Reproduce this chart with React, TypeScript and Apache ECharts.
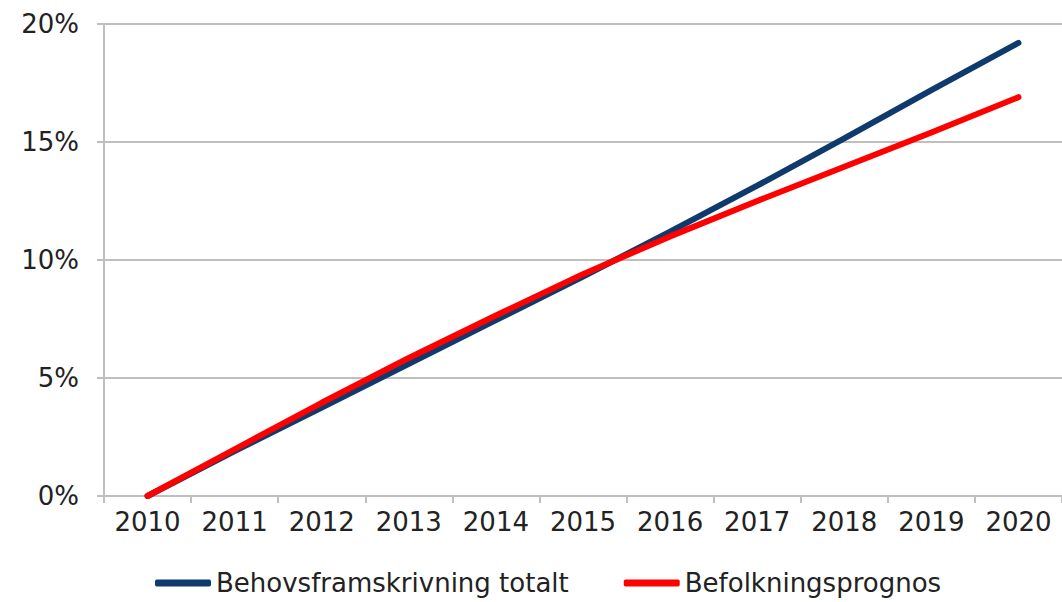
import React, { useEffect, useRef } from "react";
import * as echarts from "echarts";

const years = ["2010", "2011", "2012", "2013", "2014", "2015", "2016", "2017", "2018", "2019", "2020"];
const behovsframskrivning = [0, 1.9, 3.75, 5.6, 7.45, 9.3, 11.2, 13.15, 15.15, 17.2, 19.2];
const befolkningsprognos = [0, 1.98, 3.95, 5.85, 7.65, 9.4, 11.0, 12.5, 13.95, 15.4, 16.9];
const seriesNames = ["Behovsframskrivning totalt", "Befolkningsprognos"];

export default function App() {
  const ref = useRef<HTMLDivElement>(null);
  useEffect(() => {
    if (!ref.current) return;
    const chart = echarts.init(ref.current, undefined, { renderer: "svg" });
    const font = "DejaVu Sans";
    chart.setOption({
      animation: false,
      backgroundColor: "#ffffff",
      grid: { left: 104, right: -7, top: 24, bottom: 106, containLabel: false },
      legend: {
        left: 150,
        top: 565,
        itemWidth: 56,
        itemHeight: 7,
        itemGap: 55,
        icon: "roundRect",
        textStyle: { fontFamily: font, fontSize: 26, color: "#222" },
        data: seriesNames,
      },
      xAxis: {
        type: "category",
        data: years,
        boundaryGap: true,
        axisLine: { show: true, lineStyle: { color: "#bfbfbf", width: 2 } },
        axisTick: { show: true, length: 7, alignWithLabel: false, lineStyle: { color: "#bfbfbf", width: 2 } },
        axisLabel: { fontFamily: font, fontSize: 26, color: "#222", margin: 13 },
        splitLine: { show: false },
      },
      yAxis: {
        type: "value",
        min: 0,
        max: 20,
        interval: 5,
        axisLine: { show: true, lineStyle: { color: "#bfbfbf", width: 2 } },
        axisTick: { show: true, length: 7, lineStyle: { color: "#bfbfbf", width: 2 } },
        axisLabel: { fontFamily: font, fontSize: 26, color: "#222", margin: 25, formatter: "{value}%" },
        splitLine: { show: true, lineStyle: { color: "#bfbfbf", width: 2 } },
      },
      series: [
        {
          name: seriesNames[0],
          type: "line",
          data: behovsframskrivning,
          showSymbol: false,
          symbol: "none",
          lineStyle: { color: "#0f3a6e", width: 6, cap: "round" },
          itemStyle: { color: "#0f3a6e" },
          z: 2,
        },
        {
          name: seriesNames[1],
          type: "line",
          data: befolkningsprognos,
          showSymbol: false,
          symbol: "none",
          lineStyle: { color: "#ff0000", width: 6, cap: "round" },
          itemStyle: { color: "#ff0000" },
          z: 3,
        },
      ],
    });
    return () => chart.dispose();
  }, []);
  return <div ref={ref} style={{ position: "fixed", left: 0, top: 0, width: 1062, height: 602 }} />;
}
